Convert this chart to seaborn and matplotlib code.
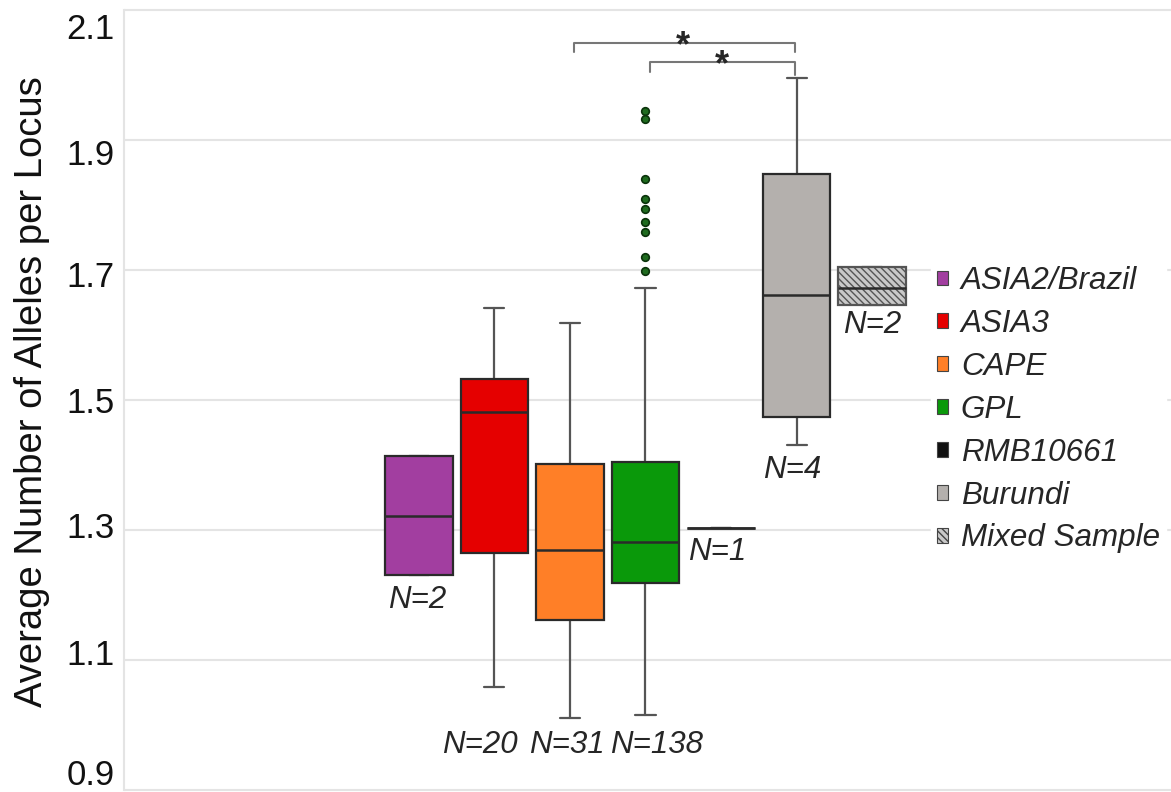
import numpy as np
import matplotlib
matplotlib.use("Agg")
import matplotlib.pyplot as plt
from matplotlib.patches import Patch
from matplotlib.transforms import ScaledTranslation
import seaborn as sns

# Box statistics (SPSS style hinges)
groups = ["ASIA2/Brazil", "ASIA3", "CAPE", "GPL", "RMB10661", "Burundi", "Mixed Sample"]
n_labels = ["N=2", "N=20", "N=31", "N=138", "N=1", "N=4", "N=2"]
whislo = [1.231, 1.059, 1.010, 1.016, 1.303, 1.431, 1.646]
q1 = [1.231, 1.265, 1.162, 1.218, 1.303, 1.474, 1.646]
med = [1.322, 1.482, 1.269, 1.281, 1.303, 1.662, 1.673]
q3 = [1.414, 1.532, 1.402, 1.405, 1.303, 1.848, 1.704]
whishi = [1.414, 1.641, 1.619, 1.673, 1.303, 1.995, 1.704]
gpl_outliers = [1.945, 1.932, 1.840, 1.810, 1.794, 1.774, 1.758, 1.720, 1.698]

colors = ["#A23EA0", "#E50000", "#FF7F27", "#0A990A", "#111111", "#B4B0AD", "#C9C9C9"]

yticks = [0.9, 1.1, 1.3, 1.5, 1.7, 1.9, 2.1]
ytick_labels = ["0.9", "1.1", "1.3", "1.5", "1.7", "1.9", "2.1"]

# label positions (x in category units, y in data units)
n_x = [-0.03, 0.81, 1.96, 3.15, 3.95, 4.94, 6.0]
n_y = [1.192, 0.969, 0.969, 0.969, 1.266, 1.392, 1.615]

sns.set_style("whitegrid")
plt.rcParams["font.family"] = ["Liberation Sans", "DejaVu Sans"]

fig = plt.figure(figsize=(11.71, 7.92), dpi=100)
ax = fig.add_axes([124 / 1171, 0, 1 - 124 / 1171, 1])

stats = []
for i, g in enumerate(groups):
    stats.append(dict(label=g, whislo=whislo[i], q1=q1[i], med=med[i],
                      q3=q3[i], whishi=whishi[i], fliers=[]))

bp = ax.bxp(stats, positions=range(len(groups)), widths=0.9, capwidths=0.265,
            patch_artist=True, showfliers=False,
            boxprops=dict(edgecolor="#2a2a2a", linewidth=1.6),
            medianprops=dict(color="#2a2a2a", linewidth=1.8),
            whiskerprops=dict(color="#555555", linewidth=1.6),
            capprops=dict(color="#555555", linewidth=1.6))
for i, box in enumerate(bp["boxes"]):
    box.set_facecolor(colors[i])
    box.set_zorder(3)
    if groups[i] == "Mixed Sample":
        box.set_hatch("\\\\\\\\\\")
        box.set_edgecolor("#555555")
    if groups[i] == "RMB10661":
        box.set_edgecolor("#333333")
        box.set_linewidth(1.8)
for m in bp["medians"]:
    m.set_zorder(4)

# GPL outliers
sns.scatterplot(x=[3] * len(gpl_outliers), y=gpl_outliers, ax=ax, color="#1f6b1f",
                edgecolor="#0b330b", s=30, linewidth=1.2, zorder=5, legend=False)

# sample size labels
for x, y, t in zip(n_x, n_y, n_labels):
    ax.text(x, y, t, fontsize=22.5, style="italic", ha="center", va="center")

# significance brackets
br_col = "#777777"
ax.plot([2.05, 2.05, 4.98, 4.98], [2.035, 2.0497, 2.0497, 2.035], color=br_col, lw=1.5)
ax.plot([3.06, 3.06, 4.98, 4.98], [2.005, 2.0196, 2.0196, 2.0], color=br_col, lw=1.5)
ax.text(3.49, 2.029, "*", fontsize=26, ha="center", va="baseline", fontweight="bold")
ax.text(4.01, 1.999, "*", fontsize=26, ha="center", va="baseline", fontweight="bold")

ax.set_xlim(-3.907, 9.96)
ax.set_ylim(0.8969, 2.1154)
ax.set_xticks([])
ax.set_yticks(yticks)
ax.set_yticklabels(ytick_labels)
ax.tick_params(axis="y", labelsize=25, length=0, pad=6.5, labelcolor="#111111")
ax.grid(axis="y", color="#E4E4E4", linewidth=1.5)
ax.grid(axis="x", visible=False)
for s in ["top", "right", "bottom"]:
    ax.spines[s].set_visible(False)
ax.spines["left"].set_color("#E4E4E4")
ax.spines["left"].set_linewidth(1.5)
ax.spines["left"].set_bounds(0.9, 2.1)

# the original's tick labels sit slightly off their gridlines
label_shift = [0.18, 0.08, 0.05, 0.0, -0.04, -0.12, -0.16]
for lab, dy in zip(ax.get_yticklabels(), label_shift):
    lab.set_transform(lab.get_transform() + ScaledTranslation(0, dy, fig.dpi_scale_trans))

ax.set_ylabel("Average Number of Alleles per Locus", fontsize=27.5, color="#111111")
ax.yaxis.set_label_coords(-0.0707, 0.506)

handles = []
for i, g in enumerate(groups):
    h = Patch(facecolor=colors[i], edgecolor="#444444", linewidth=0.8, label=g)
    if g == "Mixed Sample":
        h.set_hatch("\\\\\\\\\\")
    handles.append(h)
leg = ax.legend(handles=handles, loc="upper left", bbox_to_anchor=(931 / 1171, 1 - 260 / 792),
                bbox_transform=fig.transFigure, frameon=True, facecolor="white",
                edgecolor="white", framealpha=1, fancybox=False, borderaxespad=0,
                borderpad=0.2, handlelength=0.35, handleheight=0.35, handletextpad=0.4,
                labelspacing=0.41, prop=dict(size=22.6, style="italic"))
leg.set_zorder(6)

fig.savefig("out.png", dpi=100)
